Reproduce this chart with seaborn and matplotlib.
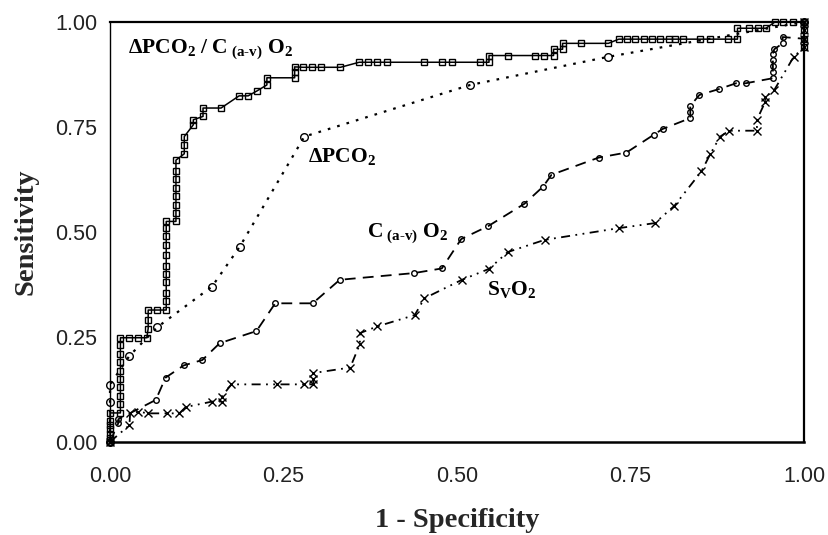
import matplotlib
matplotlib.use("Agg")
import matplotlib.pyplot as plt
import seaborn as sns
import pandas as pd

# ROC curves: sensitivity vs 1 - specificity for four indices
ratio_x = [0, 0, 0, 0, 0, 0, 0, 0.015, 0.015, 0.015, 0.015, 0.015, 0.015, 0.015, 0.015, 0.015, 0.015,
           0.028, 0.041, 0.053, 0.055, 0.055, 0.055, 0.068, 0.081, 0.081, 0.081, 0.081, 0.081, 0.081,
           0.081, 0.081, 0.081, 0.081, 0.081, 0.095, 0.095, 0.095, 0.095, 0.095, 0.095, 0.095, 0.095,
           0.107, 0.107, 0.107, 0.120, 0.120, 0.134, 0.134, 0.160, 0.186, 0.199, 0.212, 0.226, 0.226,
           0.266, 0.266, 0.266, 0.278, 0.291, 0.304, 0.332, 0.359, 0.372, 0.385, 0.399, 0.452, 0.479,
           0.492, 0.533, 0.546, 0.546, 0.573, 0.612, 0.625, 0.639, 0.639, 0.652, 0.652, 0.679, 0.718,
           0.733, 0.745, 0.757, 0.769, 0.781, 0.793, 0.805, 0.814, 0.825, 0.850, 0.864, 0.891, 0.904,
           0.904, 0.921, 0.933, 0.945, 0.958, 0.970, 0.984, 1.0, 1.0, 1.0, 1.0]
ratio_y = [0, 0.01, 0.02, 0.03, 0.04, 0.05, 0.069, 0.069, 0.09, 0.11, 0.13, 0.15, 0.17, 0.19, 0.21, 0.23, 0.248,
           0.248, 0.248, 0.248, 0.27, 0.29, 0.314, 0.314, 0.314, 0.335, 0.355, 0.38, 0.40, 0.42,
           0.445, 0.47, 0.49, 0.51, 0.525, 0.525, 0.545, 0.565, 0.585, 0.605, 0.625, 0.645, 0.671,
           0.686, 0.706, 0.727, 0.755, 0.767, 0.775, 0.795, 0.795, 0.824, 0.824, 0.836, 0.850, 0.867,
           0.867, 0.880, 0.893, 0.892, 0.892, 0.892, 0.892, 0.904, 0.904, 0.904, 0.904, 0.904, 0.904,
           0.904, 0.904, 0.904, 0.920, 0.920, 0.920, 0.920, 0.920, 0.935, 0.935, 0.949, 0.949, 0.949,
           0.959, 0.959, 0.959, 0.959, 0.959, 0.959, 0.959, 0.959, 0.959, 0.959, 0.959, 0.959, 0.959,
           0.985, 0.985, 0.985, 0.985, 1.0, 1.0, 1.0, 1.0, 0.98, 0.96, 0.94]

pco2_x = [0, 0, 0, 0.028, 0.068, 0.147, 0.187, 0.280, 0.519, 0.718, 1.0]
pco2_y = [0, 0.094, 0.136, 0.205, 0.273, 0.370, 0.465, 0.727, 0.850, 0.917, 1.0]

cav_x = [0, 0.012, 0.012, 0.066, 0.080, 0.106, 0.133, 0.158, 0.211, 0.238, 0.292, 0.331, 0.438,
         0.478, 0.506, 0.545, 0.597, 0.624, 0.636, 0.704, 0.744, 0.783, 0.796, 0.836, 0.836, 0.836,
         0.849, 0.877, 0.902, 0.916, 0.955, 0.955, 0.955, 0.955, 0.955, 0.957, 0.969, 0.969, 1.0, 1.0]
cav_y = [0, 0.045, 0.054, 0.100, 0.153, 0.182, 0.195, 0.235, 0.264, 0.330, 0.330, 0.386, 0.402,
         0.413, 0.483, 0.514, 0.567, 0.608, 0.636, 0.677, 0.689, 0.731, 0.745, 0.771, 0.786, 0.800,
         0.826, 0.840, 0.854, 0.854, 0.866, 0.880, 0.895, 0.910, 0.924, 0.935, 0.949, 0.964, 0.960, 1.0]

svo2_x = [0, 0.028, 0.029, 0.041, 0.055, 0.082, 0.100, 0.109, 0.147, 0.161, 0.161, 0.175, 0.240,
          0.279, 0.293, 0.293, 0.293, 0.346, 0.360, 0.360, 0.385, 0.439, 0.453, 0.507, 0.546, 0.573,
          0.626, 0.733, 0.785, 0.813, 0.852, 0.865, 0.879, 0.892, 0.932, 0.932, 0.944, 0.944, 0.957,
          0.985, 1.0, 1.0, 1.0, 1.0]
svo2_y = [0, 0.040, 0.068, 0.072, 0.068, 0.068, 0.068, 0.083, 0.096, 0.096, 0.108, 0.137, 0.137,
          0.137, 0.137, 0.150, 0.164, 0.177, 0.233, 0.259, 0.275, 0.302, 0.342, 0.386, 0.412, 0.452,
          0.481, 0.509, 0.521, 0.562, 0.644, 0.686, 0.727, 0.741, 0.741, 0.767, 0.810, 0.821, 0.838,
          0.917, 0.940, 0.960, 0.980, 1.0]

tick_values = [0.0, 0.25, 0.5, 0.75, 1.0]
tick_labels = ["0.00", "0.25", "0.50", "0.75", "1.00"]

sns.set_style("white")
plt.rcParams["font.family"] = ["Liberation Sans", "DejaVu Sans"]
plt.rcParams["mathtext.fontset"] = "custom"
plt.rcParams["mathtext.rm"] = "Liberation Serif:bold"
plt.rcParams["mathtext.it"] = "Liberation Serif:italic:bold"
plt.rcParams["mathtext.bf"] = "Liberation Serif:bold"

fig, ax = plt.subplots(figsize=(8.29, 5.35), dpi=100)
fig.subplots_adjust(left=0.1327, right=0.970, top=0.959, bottom=0.174)

series = [
    (ratio_x, ratio_y, dict(linestyle="-", linewidth=1.1, marker="s", markersize=5)),
    (pco2_x, pco2_y, dict(linestyle=(0, (1.2, 3.2)), linewidth=1.6, marker="o", markersize=5.5)),
    (cav_x, cav_y, dict(linestyle=(0, (6, 4)), linewidth=1.3, marker="o", markersize=4)),
    (svo2_x, svo2_y, dict(linestyle=(0, (5, 3, 1, 3, 1, 3)), linewidth=1.3, marker="x",
                          markersize=6)),
]
for xs, ys, style in series:
    df = pd.DataFrame({"fpr": xs, "tpr": ys})
    sns.lineplot(data=df, x="fpr", y="tpr", ax=ax, sort=False, estimator=None, color="black",
                 markerfacecolor="none", markeredgecolor="black", markeredgewidth=1.0,
                 clip_on=False, zorder=3, **style)

ax.set_xlim(0, 1)
ax.set_ylim(0, 1)
ax.set_xticks(tick_values)
ax.set_xticklabels(tick_labels)
ax.set_yticks(tick_values)
ax.set_yticklabels(tick_labels)
ax.tick_params(axis="both", length=0, labelsize=15.5, labelcolor="#222222")
ax.tick_params(axis="x", pad=17)
ax.tick_params(axis="y", pad=9)

for side, lw in [("left", 1.0), ("bottom", 1.8), ("top", 1.6), ("right", 1.6)]:
    ax.spines[side].set_visible(True)
    ax.spines[side].set_color("black")
    ax.spines[side].set_linewidth(lw)

label_font = dict(family="Liberation Serif", weight="bold", size=20.5)
ax.set_xlabel("1 - Specificity", labelpad=15.5, **label_font)
ax.set_ylabel("Sensitivity", labelpad=12, **label_font)

note_font = dict(family="Liberation Serif", weight="bold", size=15.5, color="black")
ax.text(0.026, 0.935, r"$\Delta$PCO$_2$ / C$_{\ \mathrm{(a}\text{-}\mathrm{v)}}$ O$_2$",
        va="center", ha="left", **note_font)
ax.text(0.285, 0.679, r"$\Delta$PCO$_2$", va="center", ha="left", **note_font)
ax.text(0.370, 0.498, r"C$_{\ \mathrm{(a}\text{-}\mathrm{v)}}$ O$_2$", va="center", ha="left",
        **note_font)
ax.text(0.543, 0.362, r"S$_\mathrm{V}$O$_2$", va="center", ha="left", **note_font)

fig.savefig("out.png", dpi=100)
